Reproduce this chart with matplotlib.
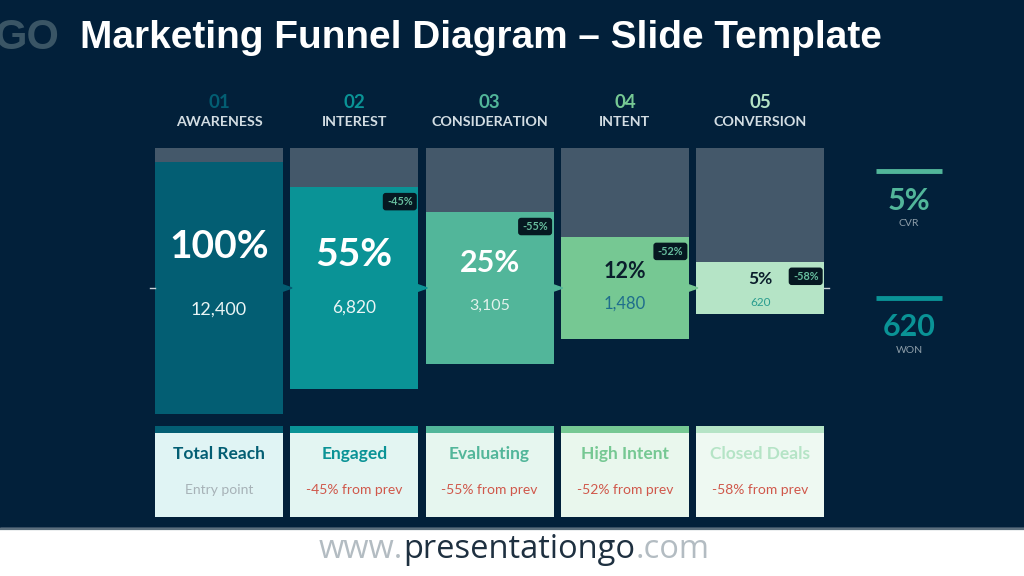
import matplotlib
matplotlib.use("Agg")
import matplotlib.pyplot as plt
from matplotlib.patches import FancyBboxPatch, Polygon, Rectangle

# ---------------- data ----------------
step_nums = ["01", "02", "03", "04", "05"]
stages = ["AWARENESS", "INTEREST", "CONSIDERATION", "INTENT", "CONVERSION"]
pct = [100, 55, 25, 12, 5]
counts = [12400, 6820, 3105, 1480, 620]
drops = [None, -45, -55, -52, -58]
card_titles = ["Total Reach", "Engaged", "Evaluating", "High Intent", "Closed Deals"]
kpi_values = ["5%", "620"]
kpi_labels = ["CVR", "WON"]
footer_parts = ["www.", "presentationgo", ".com"]

# ---------------- style ----------------
BG = "#02203A"
TRACK = "#44586A"
colors = ["#035E73", "#0A9396", "#52B69A", "#76C893", "#B5E4C6"]
card_fill = ["#E0F4F4", "#E3F5F2", "#E6F6EF", "#E9F7ED", "#EEF9F2"]
pct_colors = ["white", "white", "white", "#0B1E2C", "#0B1E2C"]
cnt_colors = ["#EAF5F5", "#EAF5F5", "#E2F2EC", "#1F6E8C", "#2A9D8F"]
pct_sizes = [28, 28, 22, 15.5, 12.5]
cnt_sizes = [13, 12.5, 11.5, 12, 8.5]
BODY = ["Lato", "DejaVu Sans"]
TITLE = ["Liberation Sans", "DejaVu Sans"]
FOOT = ["Open Sans", "DejaVu Sans"]

fig = plt.figure(figsize=(10.24, 5.76), dpi=100)
fig.patch.set_facecolor(BG)
ax = fig.add_axes([0, 0, 1, 1])
ax.set_xlim(0, 1024)
ax.set_ylim(576, 0)
ax.axis("off")
ax.set_facecolor(BG)

# footer
ax.add_patch(Rectangle((0, 528), 1024, 48, color="white", zorder=1))
ax.plot([0, 1024], [528.5, 528.5], color="#5B6E7C", lw=1.6, zorder=2)
foot_colors = ["#B3BCC2", "#1E3040", "#B3BCC2"]
renderer = fig.canvas.get_renderer()
tmp = [ax.text(0, 0, p, fontsize=23.5, family=FOOT) for p in footer_parts]
widths = [t.get_window_extent(renderer).width for t in tmp]
for t in tmp:
    t.remove()
x0 = 514 - sum(widths) / 2
for p, w, c in zip(footer_parts, widths, foot_colors):
    ax.text(x0, 550, p, ha="left", va="center", fontsize=23.5, family=FOOT, color=c)
    x0 += w

# logo + title
ax.text(-6, 38, "GO", ha="left", va="center", fontsize=30, fontweight="bold",
        family=TITLE, color="#3A5565")
ax.text(80, 38, "Marketing Funnel Diagram \u2013 Slide Template", ha="left", va="center",
        fontsize=27.9, fontweight="bold", family=TITLE, color="white")

n = len(pct)
centers = [219 + 135.3 * i for i in range(n)]
width = 128
track_top = 148
mid = 288
Hmax = 252
heights = [Hmax * (1 - 0.1975 * i) for i in range(n)]
tops = [mid - h / 2 for h in heights]

# gray track above each bar
ax.bar(centers, [t - track_top for t in tops], bottom=track_top, width=width,
       color=TRACK, zorder=2)
# funnel bars
ax.bar(centers, heights, bottom=tops, width=width, color=colors, zorder=3)

# axis ticks / connectors
ax.plot([150, 155], [mid, mid], color="#C9D2D8", lw=1, zorder=4)
ax.plot([824, 829], [mid, mid], color="#C9D2D8", lw=1, zorder=4)
for i in range(n - 1):
    xr = centers[i] + width / 2
    ax.add_patch(Polygon([[xr - 1, mid - 3.5], [xr + 9, mid], [xr - 1, mid + 3.5]],
                         closed=True, color=colors[i], zorder=4))

for i in range(n):
    cx = centers[i]
    # headers
    ax.text(cx, 103, step_nums[i], ha="center", va="center", fontsize=13.5,
            fontweight="bold", family=BODY, color=colors[i])
    ax.text(cx, 122, stages[i], ha="center", va="center", fontsize=10.3,
            fontweight="bold", family=BODY, color="#D3DDE3")
    # bar labels
    pc_y = [246, 255, 263, 272, 279][i]
    ct_y = [309, 307, 305, 303, 302][i]
    ax.text(cx, pc_y, f"{pct[i]}%", ha="center", va="center", fontsize=pct_sizes[i],
            fontweight="bold", family=BODY, color=pct_colors[i], zorder=5)
    ax.text(cx, ct_y + 1, f"{counts[i]:,}", ha="center", va="center", fontsize=cnt_sizes[i],
            family=BODY, color=cnt_colors[i], zorder=5)
    # drop badge
    if drops[i] is not None:
        bx1 = cx + width / 2 - 1.5
        by = tops[i] + 6
        ax.add_patch(FancyBboxPatch((bx1 - 34 + 2, by + 2), 34 - 4, 17.5 - 4,
                                    boxstyle="round,pad=2,rounding_size=3",
                                    facecolor="#061821", edgecolor="none", zorder=6))
        ax.text(bx1 - 17, by + 8.9, f"{drops[i]}%", ha="center", va="center",
                fontsize=7.8, fontweight="bold", family=BODY, color="#67BE9E", zorder=7)
    # bottom cards
    ax.bar(cx, 7, bottom=426, width=width, color=colors[i], zorder=3)
    ax.bar(cx, 84, bottom=433, width=width, color=card_fill[i], zorder=3)
    ax.text(cx, 454, card_titles[i], ha="center", va="center", fontsize=12.5,
            fontweight="bold", family=BODY, color=colors[i], zorder=5)
    sub = "Entry point" if drops[i] is None else f"{drops[i]}% from prev"
    sub_c = "#A7B2B7" if drops[i] is None else "#D0584B"
    ax.text(cx, 490, sub, ha="center", va="center", fontsize=10, family=BODY,
            color=sub_c, zorder=5)

# right KPIs
kpi_colors = ["#52B69A", "#0A9396"]
kpi_line_y = [171, 298]
for k in range(2):
    ax.plot([876, 942], [kpi_line_y[k], kpi_line_y[k]], color=kpi_colors[k], lw=3.5,
            solid_capstyle="butt")
    ax.text(909, kpi_line_y[k] + 29.5, kpi_values[k], ha="center", va="center",
            fontsize=22, fontweight="bold", family=BODY, color=kpi_colors[k])
    ax.text(909, kpi_line_y[k] + 52.5, kpi_labels[k], ha="center", va="center",
            fontsize=7.5, family=BODY, color="#8D9DA8")

fig.savefig("out.png", dpi=100, facecolor=BG)
